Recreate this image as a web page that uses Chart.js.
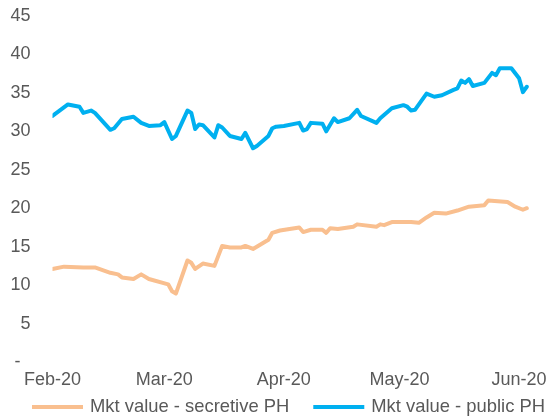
<!DOCTYPE html>
<html>
<head>
<meta charset="utf-8">
<script src="https://cdn.jsdelivr.net/npm/chart.js@4"></script>
<style>
html,body{margin:0;padding:0;background:#fff;}
#wrap{width:548px;height:419px;position:relative;}
</style>
</head>
<body>
<div id="wrap"><canvas id="c" width="548" height="419"></canvas></div>
<script>
// x = days since 1 Feb 2020
const tickDays = [0, 29, 60, 90, 121];
const tickLabels = ['Feb-20', 'Mar-20', 'Apr-20', 'May-20', 'Jun-20'];

const seriesNames = ['Mkt value - secretive PH', 'Mkt value - public PH'];

const secretiveDays = [0,3,8,11,15,17,18,21,23,25,30,31,32,35,36,37,39,42,44,46,49,50,52,56,57,59,64,65,67,70,71,72,74,78,79,84,85,86,88,93,95,97,99,102,105,108,112,113,118,120,122,123];
const secretiveValues = [12.1,12.4,12.3,12.3,11.6,11.4,11.0,10.8,11.4,10.8,10.1,9.2,8.9,13.2,12.9,12.1,12.8,12.5,15.1,14.9,14.9,15.1,14.7,15.9,16.8,17.1,17.5,16.9,17.2,17.2,16.8,17.4,17.3,17.6,17.9,17.6,17.9,17.8,18.2,18.2,18.1,18.8,19.4,19.3,19.7,20.2,20.4,21.0,20.8,20.2,19.8,20.0];

const publicDays = [0,4,7,8,10,11,15,16,18,21,23,25,28,29,31,32,35,36,37,38,39,42,43,44,46,49,50,52,53,56,57,58,60,64,65,66,67,70,71,73,74,77,79,80,84,85,88,91,92,93,94,97,99,100,101,104,105,106,107,108,109,112,114,115,116,119,121,122,123];
const publicValues = [32.0,33.5,33.2,32.4,32.7,32.4,30.2,30.4,31.6,31.9,31.1,30.7,30.8,31.2,29.0,29.4,32.7,32.4,30.3,30.9,30.8,29.2,30.8,30.5,29.4,29.0,29.8,27.8,28.1,29.4,30.4,30.6,30.7,31.1,30.1,30.3,31.1,31.0,30.0,31.7,31.2,31.7,32.8,32.0,31.1,31.7,33.0,33.4,33.2,32.7,32.8,34.9,34.5,34.6,34.7,35.4,35.6,36.6,36.3,36.8,35.9,36.3,37.6,37.3,38.2,38.2,36.9,35.1,35.8];

const yTicks = [0,5,10,15,20,25,30,35,40,45];

const colors = ['#F9BF8F', '#00B0F0'];
const textColor = '#595959';
const fontFamily = "'Liberation Sans', Arial, sans-serif";

function toPoints(days, vals){ return days.map((d,i)=>({x:d, y:vals[i]})); }

// Excel-style single-row legend with line samples
const lineLegend = {
  id: 'lineLegend',
  afterDraw(chart) {
    const ctx = chart.ctx;
    ctx.save();
    ctx.font = '18.4px ' + fontFamily;
    ctx.textBaseline = 'middle';
    ctx.textAlign = 'left';
    const y = chart.chartArea.bottom + 45;
    let x = 32;
    chart.data.datasets.forEach(ds => {
      ctx.fillStyle = ds.borderColor;
      ctx.fillRect(x, y - 2, 51, 4);
      ctx.fillStyle = textColor;
      ctx.fillText(ds.label, x + 58, y);
      x += 58 + ctx.measureText(ds.label).width + 24;
    });
    ctx.restore();
  }
};

const noPad = (s) => { s.paddingTop = 0; s.paddingBottom = 0; s.paddingLeft = 0; s.paddingRight = 0; };

new Chart(document.getElementById('c'), {
  type: 'line',
  data: {
    datasets: [
      {label: seriesNames[0], data: toPoints(secretiveDays, secretiveValues), borderColor: colors[0], backgroundColor: colors[0]},
      {label: seriesNames[1], data: toPoints(publicDays, publicValues), borderColor: colors[1], backgroundColor: colors[1]}
    ]
  },
  plugins: [lineLegend],
  options: {
    responsive: false,
    animation: false,
    layout: {padding: {top: 16, right: 0, left: 0, bottom: 28}},
    elements: {
      line: {borderWidth: 4, tension: 0, borderJoinStyle: 'round', borderCapStyle: 'round', fill: false},
      point: {radius: 0, hoverRadius: 0}
    },
    scales: {
      x: {
        type: 'linear',
        min: 0, max: 128.5,
        grid: {display: false, drawTicks: false, tickLength: 0},
        border: {display: false},
        afterBuildTicks: (s) => { s.ticks = tickDays.map(v => ({value: v})); },
        afterFit: (s) => { s.height = 29; noPad(s); },
        ticks: {
          autoSkip: false, maxRotation: 0, padding: 7,
          color: textColor, font: {family: fontFamily, size: 18},
          callback: (v) => { const i = tickDays.indexOf(v); return i >= 0 ? tickLabels[i] : ''; }
        }
      },
      y: {
        min: 0, max: 45,
        grid: {display: false, drawTicks: false, tickLength: 0},
        border: {display: false},
        afterBuildTicks: (s) => { s.ticks = yTicks.map(v => ({value: v})); },
        afterFit: (s) => { s.width = 52.5; noPad(s); },
        ticks: {
          padding: 22,
          color: textColor, font: {family: fontFamily, size: 18},
          callback: (v) => v === 0 ? '-  ' : String(v)
        }
      }
    },
    plugins: {
      tooltip: {enabled: false},
      legend: {display: false}
    }
  }
});
</script>
</body>
</html>
